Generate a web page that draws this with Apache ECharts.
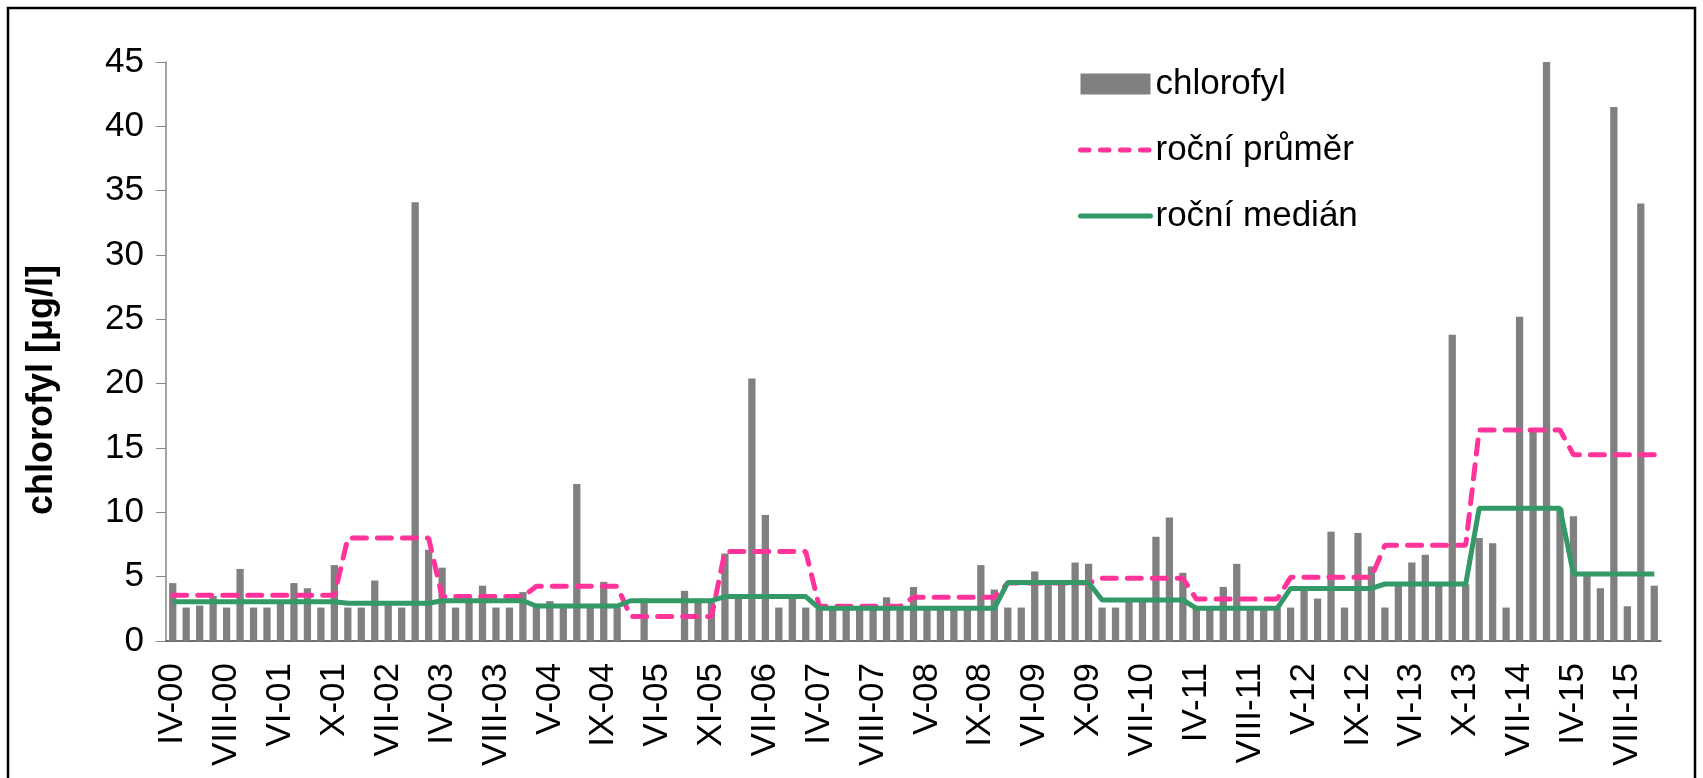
<!DOCTYPE html>
<html>
<head>
<meta charset="utf-8">
<script src="https://cdn.jsdelivr.net/npm/echarts@6/dist/echarts.min.js"></script>
<style>
html, body { margin: 0; padding: 0; background: #fff; }
#chlorofylChart { width: 1703px; height: 778px; }
</style>
</head>
<body>
<div id="chlorofylChart"></div>
<script>
// popisky osy x (kazdy 4. odber)
var tickLabels = ['IV-00','VIII-00','VI-01','X-01','VII-02','IV-03','VIII-03','V-04','IX-04','VI-05',
    'XI-05','VII-06','IV-07','VIII-07','V-08','IX-08','VI-09','X-09','VII-10','IV-11',
    'VIII-11','V-12','IX-12','VI-13','X-13','VII-14','IV-15','VIII-15'];

// poradi odberu
var samples = ['1','2','3','4','5','6','7','8','9','10','11','12','13','14','15','16','17','18','19','20',
    '21','22','23','24','25','26','27','28','29','30','31','32','33','34','35','36','37','38','39','40',
    '41','42','43','44','45','46','47','48','49','50','51','52','53','54','55','56','57','58','59','60',
    '61','62','63','64','65','66','67','68','69','70','71','72','73','74','75','76','77','78','79','80',
    '81','82','83','84','85','86','87','88','89','90','91','92','93','94','95','96','97','98','99','100',
    '101','102','103','104','105','106','107','108','109','110','111'];

// chlorofyl [ug/l]
var chlorofyl = [4.5,2.6,2.75,3.5,2.6,5.6,2.6,2.6,3.0,4.5,
    4.1,2.6,5.9,2.6,2.6,4.7,3.0,2.6,34.1,7.1,
    5.7,2.6,3.0,4.3,2.6,2.6,3.8,2.9,3.1,2.6,
    12.2,2.6,4.6,2.6,null,3.3,null,null,3.9,3.3,
    3.0,6.8,3.4,20.4,9.8,2.6,3.4,2.6,2.5,2.5,
    2.5,2.5,2.5,3.4,2.6,4.2,2.6,2.6,2.6,2.6,
    5.9,4.0,2.6,2.6,5.4,4.4,4.4,6.1,6.0,2.6,
    2.6,3.2,3.2,8.1,9.6,5.3,2.6,2.6,4.2,6.0,
    2.6,2.6,2.6,2.6,4.1,3.3,8.5,2.6,8.4,5.8,
    2.6,4.4,6.1,6.7,4.4,23.8,4.4,8.0,7.6,2.6,
    25.2,16.3,45.0,10.3,9.7,5.2,4.1,41.5,2.7,34.0,
    4.3];

// rocni prumer
var rocniPrumer = [3.55,3.55,3.55,3.55,3.55,3.55,3.55,3.55,3.55,3.55,
    3.55,3.55,3.55,8.0,8.0,8.0,8.0,8.0,8.0,8.0,
    3.45,3.45,3.45,3.45,3.45,3.45,3.45,4.25,4.25,4.25,
    4.25,4.25,4.25,4.25,1.9,1.9,1.9,1.9,1.9,1.9,
    1.9,6.95,6.95,6.95,6.95,6.95,6.95,6.95,2.7,2.7,
    2.7,2.7,2.7,2.7,2.7,3.4,3.4,3.4,3.4,3.4,
    3.4,3.4,4.5,4.5,4.5,4.5,4.5,4.5,4.5,4.87,
    4.87,4.87,4.87,4.87,4.87,4.87,3.26,3.26,3.26,3.26,
    3.26,3.26,3.26,4.95,4.95,4.95,4.95,4.95,4.95,4.95,
    7.45,7.45,7.45,7.45,7.45,7.45,7.45,16.4,16.4,16.4,
    16.4,16.4,16.4,16.4,14.48,14.48,14.48,14.48,14.48,14.48,
    14.48];

// rocni median
var rocniMedian = [3.05,3.05,3.05,3.05,3.05,3.05,3.05,3.05,3.05,3.05,
    3.05,3.05,3.05,2.93,2.93,2.93,2.93,2.93,2.93,2.93,
    3.13,3.13,3.13,3.13,3.13,3.13,3.13,2.72,2.72,2.72,
    2.72,2.72,2.72,2.72,3.13,3.13,3.13,3.13,3.13,3.13,
    3.13,3.45,3.45,3.45,3.45,3.45,3.45,3.45,2.54,2.54,
    2.54,2.54,2.54,2.54,2.54,2.54,2.54,2.54,2.54,2.54,
    2.54,2.54,4.55,4.55,4.55,4.55,4.55,4.55,4.55,3.19,
    3.19,3.19,3.19,3.19,3.19,3.19,2.54,2.54,2.54,2.54,
    2.54,2.54,2.54,4.09,4.09,4.09,4.09,4.09,4.09,4.09,
    4.43,4.43,4.43,4.43,4.43,4.43,4.43,10.32,10.32,10.32,
    10.32,10.32,10.32,10.32,5.2,5.2,5.2,5.2,5.2,5.2,
    5.2];

var fontName = '"Liberation Sans", Arial, sans-serif';
var pink = '#ff3399';
var green = '#339966';

var chlorofylChart = echarts.init(document.getElementById('chlorofylChart'));
chlorofylChart.setOption({
    animation: false,
    backgroundColor: '#ffffff',
    grid: {
        left: 166,
        right: 42,
        top: 62,
        bottom: 137
    },
    legend: {
        orient: 'vertical',
        left: 1073,
        top: 59,
        itemWidth: 70,
        itemHeight: 21,
        itemGap: 26,
        textStyle: {
            fontFamily: fontName,
            fontSize: 35,
            color: '#000',
            lineHeight: 40
        },
        data: [
            { name: 'chlorofyl', icon: 'rect' },
            {
                name: 'roční průměr',
                itemStyle: { opacity: 0 },
                lineStyle: { color: pink, width: 5, type: [8.5, 11.5], cap: 'round' }
            },
            {
                name: 'roční medián',
                itemStyle: { opacity: 0 },
                lineStyle: { color: green, width: 5, cap: 'round' }
            }
        ]
    },
    graphic: [
        {
            type: 'rect',
            shape: { x: 8, y: 8, width: 1687, height: 820 },
            style: { fill: 'none', stroke: '#000', lineWidth: 2.5 },
            silent: true
        },
        {
            type: 'text',
            x: 42,
            y: 390,
            rotation: Math.PI / 2,
            style: {
                text: 'chlorofyl [μg/l]',
                font: 'bold 36px ' + fontName,
                fill: '#000',
                align: 'center',
                verticalAlign: 'middle'
            }
        }
    ],
    xAxis: {
        type: 'category',
        data: samples,
        boundaryGap: true,
        axisLine: {
            lineStyle: { color: '#404040', width: 1.5 }
        },
        axisTick: {
            interval: 0,
            length: 11,
            lineStyle: { color: '#000' }
        },
        axisLabel: {
            interval: 3,
            rotate: 90,
            margin: 22,
            fontFamily: fontName,
            fontSize: 35,
            color: '#000',
            formatter: function (value, index) {
                return tickLabels[Math.floor(index / 4)];
            }
        },
        splitLine: { show: false }
    },
    yAxis: {
        type: 'value',
        min: 0,
        max: 45,
        interval: 5,
        axisLine: {
            show: true,
            lineStyle: { color: '#868686', width: 1.5 }
        },
        axisTick: {
            show: true,
            length: 10,
            lineStyle: { color: '#868686' }
        },
        axisLabel: {
            margin: 22,
            fontFamily: fontName,
            fontSize: 35,
            color: '#000'
        },
        splitLine: { show: false }
    },
    series: [
        {
            name: 'chlorofyl',
            type: 'bar',
            data: chlorofyl,
            barWidth: '54%',
            itemStyle: { color: '#808080' }
        },
        {
            name: 'roční průměr',
            type: 'line',
            data: rocniPrumer,
            symbol: 'none',
            itemStyle: { color: pink },
            lineStyle: {
                color: pink,
                width: 5,
                type: [14, 11],
                cap: 'round'
            }
        },
        {
            name: 'roční medián',
            type: 'line',
            data: rocniMedian,
            symbol: 'none',
            itemStyle: { color: green },
            lineStyle: {
                color: green,
                width: 5
            }
        }
    ]
});
</script>
</body>
</html>
